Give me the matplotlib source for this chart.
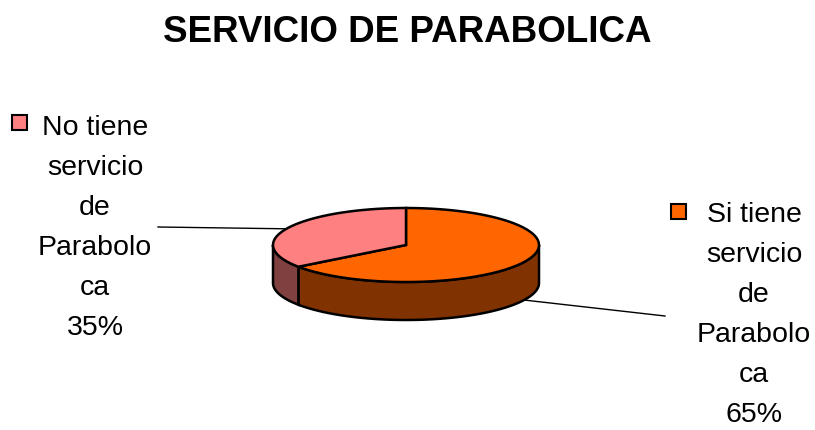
import numpy as np
from matplotlib import pyplot as plt
from matplotlib.patches import Polygon, Rectangle

plt.rcParams['font.family'] = ['Liberation Sans', 'DejaVu Sans']

# Data
labels = ['Si tiene\nservicio\nde\nParabolo\nca', 'No tiene\nservicio\nde\nParabolo\nca']
values = [65, 35]
top_colors = ['#FF6600', '#FF8080']
side_colors = ['#803300', '#804040']

fig = plt.figure(figsize=(8.15, 4.3), dpi=100)
ax = fig.add_axes([0, 0, 1, 1])
ax.set_xlim(0, 815)
ax.set_ylim(430, 0)
ax.axis('off')

# pie geometry (pixels)
cx, cy, rx, ry, depth = 406, 245, 133, 37, 38


def pt(t):
    t = np.radians(t)
    return cx + rx*np.cos(t), cy - ry*np.sin(t)


# slice angles, starting at 12 o'clock, going clockwise
total = sum(values)
angles = []
start = 90
for v in values:
    end = start - 360*v/total
    angles.append((end, start))
    start = end

# side walls (only the front half is visible)
for (a0, a1), col in zip(angles, side_colors):
    for shift in (0, 360, -360):
        lo = max(a0 + shift, -180)
        hi = min(a1 + shift, 0)
        if hi <= lo:
            continue
        t = np.linspace(lo, hi, 80)
        xs, ys = pt(t)
        verts = list(zip(xs, ys)) + list(zip(xs[::-1], ys[::-1] + depth))
        ax.add_patch(Polygon(verts, closed=True, fc=col, ec='black', lw=1.8, zorder=2))

# top faces
for (a0, a1), col in zip(angles, top_colors):
    t = np.linspace(a0, a1, 150)
    xs, ys = pt(t)
    verts = [(cx, cy)] + list(zip(xs, ys))
    ax.add_patch(Polygon(verts, closed=True, fc=col, ec='black', lw=1.8, zorder=3))

# leader lines
ax.plot([158, 300], [227, 229], color='black', lw=1, zorder=1)
ax.plot([515, 665], [299, 316], color='black', lw=1, zorder=1)

# labels with legend keys
label_pos = [(754, 315), (95, 228)]
key_pos = [(678, 211), (19, 122)]
for lab, v, (x, y), (kx, ky), col in zip(labels, values, label_pos, key_pos, top_colors):
    ax.text(x, y, f'{lab}\n{v}%', ha='center', va='center', fontsize=20.5,
            linespacing=1.7, color='black')
    ax.add_patch(Rectangle((kx - 7.5, ky - 7.5), 15, 15, fc=col, ec='black', lw=1.5, zorder=4))

ax.text(407, 32, 'SERVICIO DE PARABOLICA', ha='center', va='center',
        fontsize=26.5, fontweight='bold')

fig.savefig('out.png', dpi=100)
